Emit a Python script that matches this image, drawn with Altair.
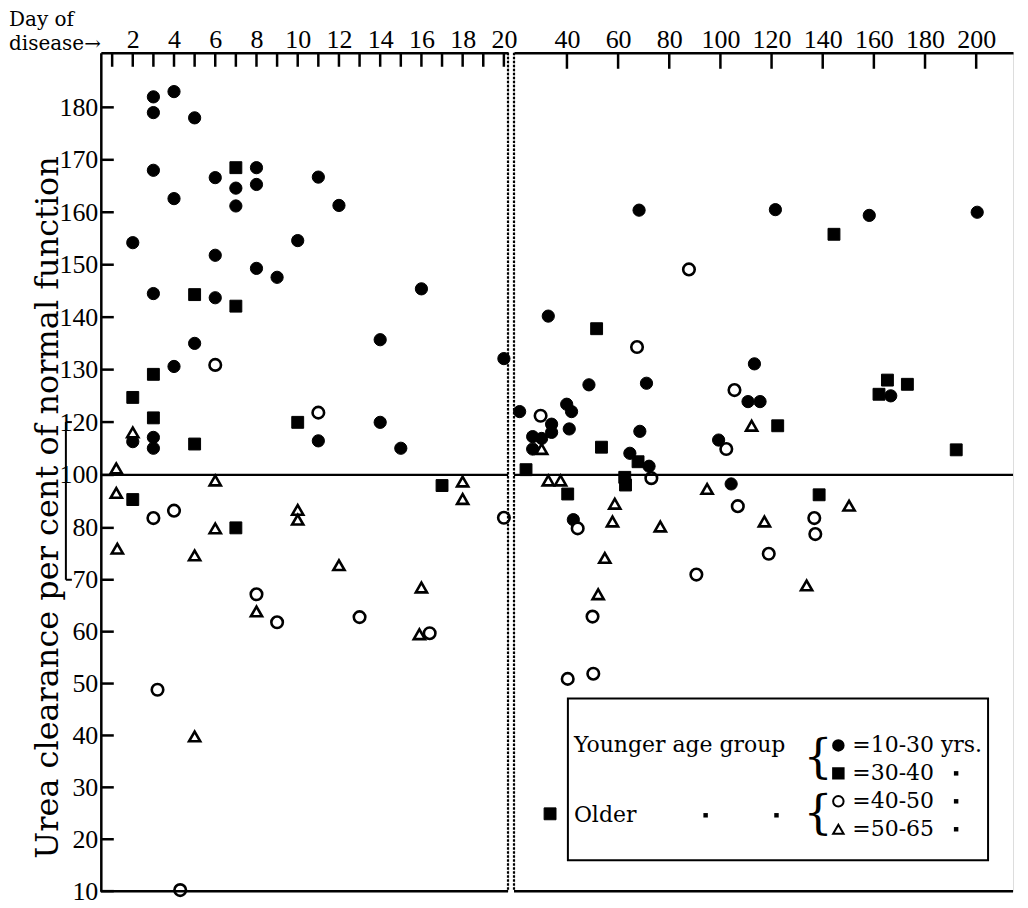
import altair as alt
import pandas as pd

# ---------------- data ----------------
GROUPS = ["10-30", "30-40", "40-50", "50-65"]
GROUP_LABELS = ["=10-30 yrs.", "=30-40", "=40-50", "=50-65"]
SHAPES = ["circle", "square", "circle", "triangle-up"]
FILLS = ["black", "black", "white", "white"]
SIZES = [150, 125, 95, 95]

# left panel: day 1-20
L_A_DAY = [3, 4, 3, 5, 3, 8, 6, 11, 7, 8, 4, 7, 12, 2, 10, 6, 8, 9, 3, 6, 16, 5, 14, 4, 20, 2, 3, 3, 11, 14, 15]
L_A_VAL = [182, 183, 179, 178, 168, 168.5, 166.6, 166.7, 164.6, 165.3, 162.6, 161.2, 161.3, 154.2, 154.6,
           151.8, 149.3, 147.6, 144.5, 143.7, 145.4, 135, 135.7, 130.6, 132.1, 112.6, 114.2, 110.1, 112.9,
           119.9, 110.1]
L_B_DAY = [7, 5, 7, 3, 2, 3, 5, 10, 2, 7, 17]
L_B_VAL = [168.5, 144.3, 142.1, 129.1, 124.7, 120.8, 111.7, 119.9, 90.7, 80, 96]
L_C_DAY = [6, 11, 3, 4, 8, 9, 13, 16.4, 3.2, 4.3, 20]
L_C_VAL = [130.9, 121.8, 83.7, 86.5, 67.2, 61.8, 62.8, 59.7, 48.8, 10.2, 83.8]
L_D_DAY = [2, 1.2, 1.2, 1.25, 6, 6, 5, 10, 10, 12, 8, 18, 18, 16, 15.9, 5]
L_D_VAL = [116.1, 102.5, 93.2, 76, 97.9, 79.9, 74.7, 86.8, 83.1, 72.8, 63.9, 97.5, 90.9, 68.5, 59.5, 39.8]

# right panel: day 20-215
R_A_DAY = [68.2, 121.5, 158.2, 200.4, 32.7, 113.3, 21.5, 48.6, 71.1, 166.6, 110.8, 115.5, 39.9, 41.8, 34.0,
           34.0, 40.9, 26.6, 30.1, 26.6, 68.5, 99.3, 64.6, 72.1, 104.2, 42.5]
R_A_VAL = [160.4, 160.5, 159.4, 160.0, 140.2, 131.1, 122.0, 127.1, 127.4, 125.0, 123.9, 123.9, 123.4, 122.0,
           119.2, 116.1, 117.4, 114.5, 113.8, 109.8, 116.5, 113.2, 108.2, 103.3, 96.6, 83.1]
R_B_DAY = [144.4, 51.6, 165.3, 173.1, 162.0, 122.4, 53.5, 67.8, 24.0, 62.6, 62.9, 40.3, 138.6, 192.2, 33.4]
R_B_VAL = [155.8, 137.8, 128.0, 127.2, 125.3, 118.6, 110.5, 105.0, 102.0, 99.1, 96.2, 92.8, 92.5, 109.5, 24.9]
R_C_DAY = [87.7, 67.4, 29.7, 105.5, 102.3, 73.0, 106.8, 44.2, 136.7, 137.1, 118.9, 90.6, 50.0, 40.3, 50.3]
R_C_VAL = [149.1, 134.3, 121.2, 126.1, 109.8, 98.8, 88.2, 79.9, 83.7, 78.8, 75.0, 71.0, 62.9, 50.9, 51.9]
R_D_DAY = [112.2, 30.1, 32.7, 37.5, 94.8, 150.3, 58.7, 57.8, 76.5, 117.2, 54.8, 133.7, 52.2]
R_D_VAL = [118.6, 109.8, 97.9, 97.9, 94.7, 88.4, 89.1, 82.4, 80.5, 82.4, 74.2, 68.9, 67.2]

Y_TICKS = [10, 20, 30, 40, 50, 60, 70, 80, 100, 120, 130, 140, 150, 160, 170, 180]
L_X_TICKS = list(range(1, 21))
L_X_LABELS = list(range(2, 21, 2))
R_X_TICKS = list(range(40, 201, 20))

# ---------------- helpers ----------------
def frame(days_vals):
    rows = []
    for g, (ds, vs) in zip(GROUPS, days_vals):
        for d, v in zip(ds, vs):
            rows.append({"day": d, "val": v, "grp": g})
    return pd.DataFrame(rows)

left_df = frame([(L_A_DAY, L_A_VAL), (L_B_DAY, L_B_VAL), (L_C_DAY, L_C_VAL), (L_D_DAY, L_D_VAL)])
right_df = frame([(R_A_DAY, R_A_VAL), (R_B_DAY, R_B_VAL), (R_C_DAY, R_C_VAL), (R_D_DAY, R_D_VAL)])

H = 840
WL = 408
WR = 500
NUM_FONT = "Liberation Serif"
TXT_FONT = "DejaVu Serif"
ONE = pd.DataFrame({"a": [0]})

yscale = alt.Scale(domain=[10, 80, 120, 190.4], range=[H, 476, 370, 0], nice=False, zero=False)

label_map = "{" + ",".join(f"'{g}':'{l}'" for g, l in zip(GROUPS, GROUP_LABELS)) + "}"
OPEN_TEST = "datum.grp == '40-50' || datum.grp == '50-65'"


def points(df, xscale, xaxis, yaxis, legend):
    return alt.Chart(df).mark_point(opacity=1, fillOpacity=1).encode(
        x=alt.X("day:Q", scale=xscale, axis=xaxis),
        y=alt.Y("val:Q", scale=yscale, axis=yaxis),
        shape=alt.Shape("grp:N", scale=alt.Scale(domain=GROUPS, range=SHAPES), legend=legend),
        fill=alt.Fill("grp:N", scale=alt.Scale(domain=GROUPS, range=FILLS), legend=legend),
        stroke=alt.Stroke("grp:N", scale=alt.Scale(domain=GROUPS, range=["black"] * 4), legend=legend),
        size=alt.Size("grp:N", scale=alt.Scale(domain=GROUPS, range=SIZES), legend=None),
        strokeWidth=alt.condition(OPEN_TEST, alt.value(2.6), alt.value(1)),
    )


def xaxis(values):
    return alt.Axis(orient="top", values=values, ticks=False, grid=False, title=None,
                    domainWidth=2.5, domainColor="black", labelFont=NUM_FONT, labelFontSize=26,
                    labelColor="black", labelPadding=0, labelFlush=False, labelOverlap=False)


def common_layers(width, tick_days, tick_len):
    xt = alt.Chart(pd.DataFrame({"day": tick_days})).mark_rule(color="black", strokeWidth=2.5).encode(
        x="day:Q", y=alt.value(0), y2=alt.value(tick_len))
    hundred = alt.Chart(pd.DataFrame({"val": [100]})).mark_rule(color="black", strokeWidth=2.2).encode(
        y="val:Q", x=alt.value(0), x2=alt.value(width))
    bottom = alt.Chart(ONE).mark_rule(color="black", strokeWidth=2.5).encode(
        y=alt.value(H), x=alt.value(0), x2=alt.value(width))
    return [xt, hundred, bottom]


# ---------------- left panel ----------------
lx = alt.Scale(domain=[0.45, 20.2], nice=False, zero=False)
yaxis = alt.Axis(values=Y_TICKS, ticks=False, grid=False, domainWidth=2.5, domainColor="black",
                 labelFont=NUM_FONT, labelFontSize=26, labelColor="black", labelPadding=3,
                 labelFlush=False, labelOverlap=False,
                 title="Urea clearance per cent of normal function", titleFont=TXT_FONT,
                 titleFontSize=32, titleFontWeight="normal", titleColor="black",
                 titleAngle=270, titleX=-53, titleY=455, titleAlign="center", titleBaseline="middle")

left_pts = points(left_df, lx, xaxis(L_X_LABELS), yaxis, None)
y_ticks_layer = alt.Chart(pd.DataFrame({"val": Y_TICKS})).mark_rule(color="black", strokeWidth=2.5).encode(
    y="val:Q", x=alt.value(0), x2=alt.value(13))
dotted_l = alt.Chart(ONE).mark_rule(color="black", strokeWidth=2.2, strokeDash=[2.5, 1.5]).encode(
    x=alt.value(WL), y=alt.value(0), y2=alt.value(H))
bracket_v = alt.Chart(pd.DataFrame({"val": [120], "val2": [70]})).mark_rule(color="black", strokeWidth=2).encode(
    y="val:Q", y2="val2:Q", x=alt.value(-35))
bracket_h = alt.Chart(pd.DataFrame({"val": [120, 70]})).mark_rule(color="black", strokeWidth=2).encode(
    y="val:Q", x=alt.value(-35), x2=alt.value(-29))
day_of = alt.Chart(ONE).mark_text(text="Day of", font=TXT_FONT, fontSize=20, align="left",
                                  baseline="alphabetic", color="black").encode(x=alt.value(-92), y=alt.value(-27))
disease = alt.Chart(ONE).mark_text(text="disease\u2192", font=TXT_FONT, fontSize=20, align="left",
                                   baseline="alphabetic", color="black").encode(x=alt.value(-92), y=alt.value(-3))

left = alt.layer(left_pts, y_ticks_layer, dotted_l, bracket_v, bracket_h, day_of, disease,
                 *common_layers(WL, L_X_TICKS, 14)).properties(width=WL, height=H)

# ---------------- right panel ----------------
rx = alt.Scale(domain=[19.3, 214.4], nice=False, zero=False)
legend = alt.Legend(orient="none", legendX=314, legendY=683, title=None, labelExpr=f"{label_map}[datum.label]",
                    labelFont=TXT_FONT, labelFontSize=22, labelColor="black", labelOffset=3,
                    symbolStrokeColor="black", symbolStrokeWidth=2, symbolSize=110, rowPadding=6, padding=0)
right_pts = points(right_df, rx, xaxis(R_X_TICKS), None, legend)
dotted_r = alt.Chart(ONE).mark_rule(color="black", strokeWidth=2.2, strokeDash=[2.5, 1.5]).encode(
    x=alt.value(0), y=alt.value(0), y2=alt.value(H))
box = alt.Chart(ONE).mark_rect(fill="white", stroke="black", strokeWidth=2).encode(
    x=alt.value(54), x2=alt.value(475), y=alt.value(647), y2=alt.value(809))


def txt(t, x, y, size=22, align="left"):
    return alt.Chart(ONE).mark_text(text=t, font=TXT_FONT, fontSize=size, align=align,
                                    baseline="middle", color="black").encode(x=alt.value(x), y=alt.value(y))


dots = alt.Chart(pd.DataFrame({"a": [0, 1, 2, 3, 4]})).mark_point(
    shape="square", filled=True, color="black", size=20, opacity=1)
dot_layers = [dots.transform_filter(f"datum.a=={i}").encode(x=alt.value(px), y=alt.value(py))
              for i, (px, py) in enumerate([(443, 722), (443, 750), (443, 778), (192, 764), (263, 764)])]

right = alt.layer(box, right_pts, dotted_r,
                  txt("Younger age group", 60, 694),
                  txt("{", 290, 707, size=46),
                  txt("Older", 60, 764),
                  txt("{", 290, 763, size=46),
                  *dot_layers,
                  *common_layers(WR, R_X_TICKS, 16)).properties(width=WR, height=H)

chart = alt.hconcat(left, right, spacing=6, bounds="flush").resolve_legend(
    shape="independent", fill="independent", stroke="independent").properties(
    padding={"left": 0, "top": 0, "right": 5, "bottom": 0}).configure_view(stroke=None).configure(font=TXT_FONT)

chart.save("out.html", embed_options={"renderer": "svg", "actions": False})
